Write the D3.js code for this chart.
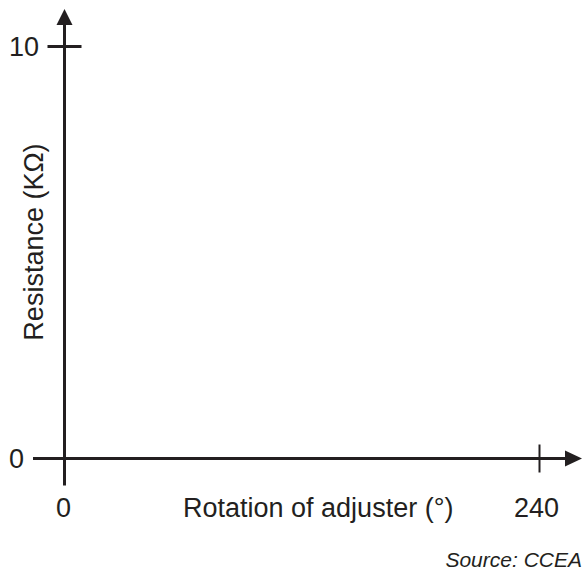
<!DOCTYPE html>
<meta charset="utf-8">
<script src="https://d3js.org/d3.v7.min.js"></script>
<style>
  body { margin: 0; background: #fff; }
  text { font-family: "Liberation Sans", Arial, sans-serif; fill: #231f20; }
</style>
<div id="chart"></div>
<script>

// axis values
var xTicks = [0, 240];
var yTicks = [0, 10];
var xTitle = "Rotation of adjuster (\u00B0)";
var yTitle = "Resistance (K\u03A9)";
var source = "Source: CCEA";

var width = 582, height = 571;
var ink = "#231f20";

var svg = d3.select("#chart")
  .append("svg")
  .attr("width", width)
  .attr("height", height);

// scales
var x = d3.scaleLinear().domain([0, 240]).range([64.5, 539.5]);
var y = d3.scaleLinear().domain([0, 10]).range([458.5, 46.5]);

// y axis line (runs a bit below origin)
svg.append("line")
  .attr("x1", x(0)).attr("x2", x(0))
  .attr("y1", y(0) + 27).attr("y2", 24)
  .style("stroke", ink).style("stroke-width", 3);

// x axis line
svg.append("line")
  .attr("x1", x(0)).attr("x2", 567)
  .attr("y1", y(0)).attr("y2", y(0))
  .style("stroke", ink).style("stroke-width", 3);

// arrow heads
svg.append("path")
  .attr("d", "M" + (x(0) - 8) + ",25 L" + x(0) + ",9 L" + (x(0) + 8) + ",25 Z")
  .style("fill", ink);
svg.append("path")
  .attr("d", "M565," + (y(0) - 8) + " L582," + y(0) + " L565," + (y(0) + 8) + " Z")
  .style("fill", ink);

// y ticks: the 0 tick only sticks out to the left
svg.selectAll(".ytick")
  .data(yTicks)
  .enter()
  .append("line")
  .attr("class", "ytick")
  .attr("x1", function(d) { return d === 0 ? 33 : x(0) - 17; })
  .attr("x2", function(d) { return d === 0 ? x(0) : x(0) + 17; })
  .attr("y1", function(d) { return y(d); })
  .attr("y2", function(d) { return y(d); })
  .style("stroke", ink).style("stroke-width", 3);

svg.selectAll(".ylabel")
  .data(yTicks)
  .enter()
  .append("text")
  .attr("class", "ylabel")
  .attr("x", function(d) { return d === 0 ? 24 : 39; })
  .attr("y", function(d) { return y(d) + 9.5; })
  .attr("text-anchor", "end")
  .style("font-size", "27px")
  .text(function(d) { return d; });

// x ticks (0 sits on the axis extension, so only 240 gets a mark)
svg.selectAll(".xtick")
  .data(xTicks.filter(function(d) { return d > 0; }))
  .enter()
  .append("line")
  .attr("class", "xtick")
  .attr("x1", function(d) { return x(d); })
  .attr("x2", function(d) { return x(d); })
  .attr("y1", y(0) - 14)
  .attr("y2", y(0) + 14)
  .style("stroke", ink).style("stroke-width", 2);

svg.selectAll(".xlabel")
  .data(xTicks)
  .enter()
  .append("text")
  .attr("class", "xlabel")
  .attr("x", function(d) { return d === 0 ? x(d) - 1 : x(d) - 3; })
  .attr("y", 517)
  .attr("text-anchor", "middle")
  .style("font-size", "27px")
  .text(function(d) { return d; });

// titles
svg.append("text")
  .attr("x", 183)
  .attr("y", 517)
  .style("font-size", "27px")
  .text(xTitle);

svg.append("text")
  .attr("transform", "translate(43,242) rotate(-90)")
  .attr("text-anchor", "middle")
  .style("font-size", "27px")
  .text(yTitle);

svg.append("text")
  .attr("x", 582)
  .attr("y", 567)
  .attr("text-anchor", "end")
  .style("font-size", "21px")
  .style("font-style", "italic")
  .text(source);

</script>
